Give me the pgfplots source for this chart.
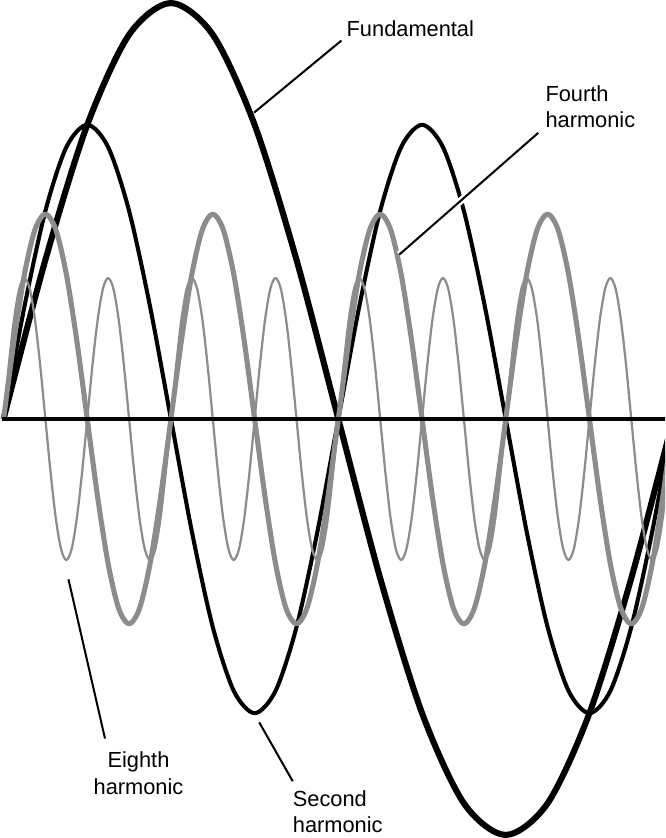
\documentclass[border=0pt]{standalone}
\usepackage{pgfplots}
\pgfplotsset{compat=1.18}
\usepackage{fontspec}
\setmainfont{Liberation Sans}
\definecolor{hgray}{HTML}{8C8C8C}
\begin{document}
\begin{tikzpicture}
\begin{axis}[
  scale only axis, width=660pt, height=838pt,
  xmin=-8, xmax=652, ymin=-418, ymax=420,
  hide axis, clip=true,
  every axis plot/.append style={smooth, no markers, line join=round},
]
% Fundamental
\addplot[black, line width=6pt] coordinates {
(0,0) (41.25,156.9) (82.5,289.9) (123.75,378.8) (165,410) (206.25,378.8) (247.5,289.9) (288.75,156.9)
(330,0) (371.25,-156.9) (412.5,-289.9) (453.75,-378.8) (495,-410) (536.25,-378.8) (577.5,-289.9) (618.75,-156.9) (660,0)
};
% Second harmonic
\addplot[black, line width=4pt] coordinates {
(0,0) (20.63,111) (41.25,205.1) (61.88,267.9) (82.5,290) (103.13,267.9) (123.75,205.1) (144.38,111)
(165,0) (185.63,-111) (206.25,-205.1) (226.88,-267.9) (247.5,-290) (268.13,-267.9) (288.75,-205.1) (309.38,-111)
(330,0) (350.63,111) (371.25,205.1) (391.88,267.9) (412.5,290) (433.13,267.9) (453.75,205.1) (474.38,111)
(495,0) (515.63,-111) (536.25,-205.1) (556.88,-267.9) (577.5,-290) (598.13,-267.9) (618.75,-205.1) (639.38,-111) (660,0)
};
% Fourth harmonic
\addplot[hgray, line width=5pt] coordinates {
(0,0) (10.31,77.3) (20.63,142.8) (30.94,186.6) (41.25,202) (51.56,186.6) (61.88,142.8) (72.19,77.3)
(82.5,0) (92.81,-77.3) (103.13,-142.8) (113.44,-186.6) (123.75,-202) (134.06,-186.6) (144.38,-142.8) (154.69,-77.3)
(165,0) (175.31,77.3) (185.63,142.8) (195.94,186.6) (206.25,202) (216.56,186.6) (226.88,142.8) (237.19,77.3)
(247.5,0) (257.81,-77.3) (268.13,-142.8) (278.44,-186.6) (288.75,-202) (299.06,-186.6) (309.38,-142.8) (319.69,-77.3)
(330,0) (340.31,77.3) (350.63,142.8) (360.94,186.6) (371.25,202) (381.56,186.6) (391.88,142.8) (402.19,77.3)
(412.5,0) (422.81,-77.3) (433.13,-142.8) (443.44,-186.6) (453.75,-202) (464.06,-186.6) (474.38,-142.8) (484.69,-77.3)
(495,0) (505.31,77.3) (515.63,142.8) (525.94,186.6) (536.25,202) (546.56,186.6) (556.88,142.8) (567.19,77.3)
(577.5,0) (587.81,-77.3) (598.13,-142.8) (608.44,-186.6) (618.75,-202) (629.06,-186.6) (639.38,-142.8) (649.69,-77.3) (660,0)
};
% Eighth harmonic
\addplot[hgray, line width=2.2pt] coordinates {
(0,0) (5.16,53.2) (10.31,98.3) (15.47,128.4) (20.63,139) (25.78,128.4) (30.94,98.3) (36.09,53.2)
(41.25,0) (46.41,-53.2) (51.56,-98.3) (56.72,-128.4) (61.88,-139) (67.03,-128.4) (72.19,-98.3) (77.34,-53.2)
(82.5,0) (87.66,53.2) (92.81,98.3) (97.97,128.4) (103.13,139) (108.28,128.4) (113.44,98.3) (118.59,53.2)
(123.75,0) (128.91,-53.2) (134.06,-98.3) (139.22,-128.4) (144.38,-139) (149.53,-128.4) (154.69,-98.3) (159.84,-53.2)
(165,0) (170.16,53.2) (175.31,98.3) (180.47,128.4) (185.63,139) (190.78,128.4) (195.94,98.3) (201.09,53.2)
(206.25,0) (211.41,-53.2) (216.56,-98.3) (221.72,-128.4) (226.88,-139) (232.03,-128.4) (237.19,-98.3) (242.34,-53.2)
(247.5,0) (252.66,53.2) (257.81,98.3) (262.97,128.4) (268.13,139) (273.28,128.4) (278.44,98.3) (283.59,53.2)
(288.75,0) (293.91,-53.2) (299.06,-98.3) (304.22,-128.4) (309.38,-139) (314.53,-128.4) (319.69,-98.3) (324.84,-53.2)
(330,0) (335.16,53.2) (340.31,98.3) (345.47,128.4) (350.63,139) (355.78,128.4) (360.94,98.3) (366.09,53.2)
(371.25,0) (376.41,-53.2) (381.56,-98.3) (386.72,-128.4) (391.88,-139) (397.03,-128.4) (402.19,-98.3) (407.34,-53.2)
(412.5,0) (417.66,53.2) (422.81,98.3) (427.97,128.4) (433.13,139) (438.28,128.4) (443.44,98.3) (448.59,53.2)
(453.75,0) (458.91,-53.2) (464.06,-98.3) (469.22,-128.4) (474.38,-139) (479.53,-128.4) (484.69,-98.3) (489.84,-53.2)
(495,0) (500.16,53.2) (505.31,98.3) (510.47,128.4) (515.63,139) (520.78,128.4) (525.94,98.3) (531.09,53.2)
(536.25,0) (541.41,-53.2) (546.56,-98.3) (551.72,-128.4) (556.88,-139) (562.03,-128.4) (567.19,-98.3) (572.34,-53.2)
(577.5,0) (582.66,53.2) (587.81,98.3) (592.97,128.4) (598.13,139) (603.28,128.4) (608.44,98.3) (613.59,53.2)
(618.75,0) (623.91,-53.2) (629.06,-98.3) (634.22,-128.4) (639.38,-139) (644.53,-128.4) (649.69,-98.3) (654.84,-53.2) (660,0)
};
% Zero line
\addplot[black, line width=3pt, sharp plot] coordinates {(-2,0) (660,0)};
% Pointer lines
\tikzset{ptr/.style={black, line width=2pt, preaction={draw=white, line width=7pt}}}
\draw[ptr] (axis cs:333,373) -- (axis cs:247,302);
\draw[ptr] (axis cs:527,282) -- (axis cs:390,162);
\draw[ptr] (axis cs:64,-158) -- (axis cs:100,-315);
\draw[ptr] (axis cs:252,-299) -- (axis cs:285,-357);
% Labels
\fontsize{21.5}{26}\selectfont
\node[anchor=base west, inner sep=0pt] at (axis cs:338,377) {Fundamental};
\node[anchor=base west, inner sep=0pt] at (axis cs:534,313) {Fourth};
\node[anchor=base west, inner sep=0pt] at (axis cs:534,287) {harmonic};
\node[anchor=base, inner sep=0pt] at (axis cs:133,-344) {Eighth};
\node[anchor=base, inner sep=0pt] at (axis cs:133,-370) {harmonic};
\node[anchor=base west, inner sep=0pt] at (axis cs:285,-382) {Second};
\node[anchor=base west, inner sep=0pt] at (axis cs:285,-408) {harmonic};
\end{axis}
\end{tikzpicture}
\end{document}
